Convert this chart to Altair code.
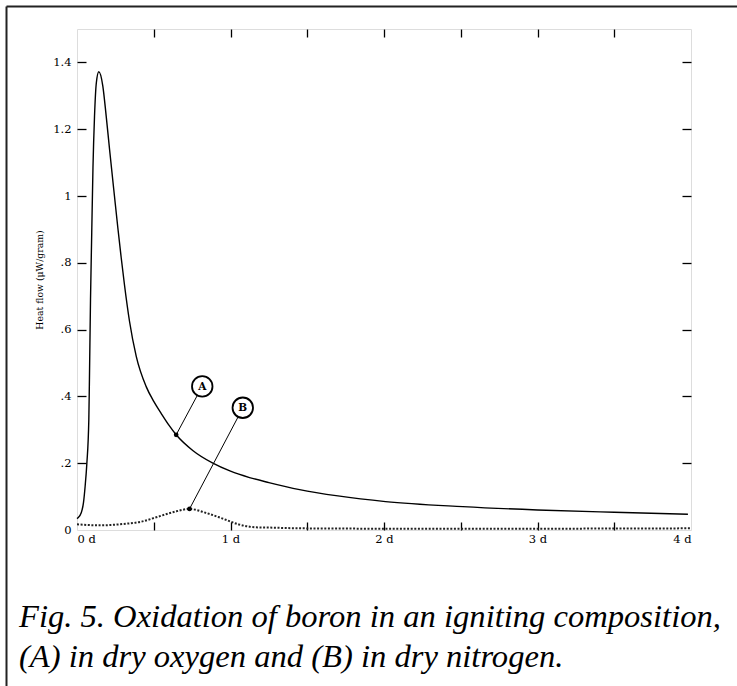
import altair as alt
import pandas as pd

# ---- data ----
a_days = [0.000, 0.005, 0.027, 0.042, 0.053, 0.064, 0.077, 0.081, 0.088, 0.096, 0.104, 0.114,
          0.126, 0.142, 0.168, 0.190, 0.212, 0.244, 0.266, 0.288, 0.309, 0.342, 0.386, 0.450,
          0.500, 0.550, 0.600, 0.646, 0.754, 0.885, 1.000, 1.124, 1.250, 1.450, 1.700, 2.010,
          2.513, 3.000, 3.500, 3.980]
a_flow = [0.034, 0.036, 0.051, 0.081, 0.131, 0.198, 0.330, 0.450, 0.690, 0.890, 1.084, 1.237,
          1.339, 1.372, 1.330, 1.240, 1.140, 1.000, 0.905, 0.815, 0.735, 0.625, 0.520, 0.430,
          0.385, 0.348, 0.313, 0.285, 0.238, 0.200, 0.176, 0.157, 0.142, 0.121, 0.102, 0.085,
          0.070, 0.060, 0.053, 0.047]

b_days = [0.000, 0.150, 0.300, 0.410, 0.516, 0.624, 0.733, 0.842, 0.950, 1.059, 1.167, 1.276,
          1.450, 2.000, 3.000, 4.000]
b_flow = [0.017, 0.014, 0.018, 0.024, 0.038, 0.053, 0.063, 0.051, 0.034, 0.016, 0.008, 0.007,
          0.005, 0.004, 0.004, 0.005]

callout_names = ["A", "B"]
callout_point_days = [0.646, 0.733]
callout_point_flow = [0.285, 0.063]
callout_end_days = [0.785, 1.050]
callout_end_flow = [0.404, 0.339]
callout_circle_days = [0.816, 1.080]
callout_circle_flow = [0.430, 0.366]

x_label_values = [0, 1, 2, 3, 4]
x_tick_values = [0.5, 1, 1.5, 2, 2.5, 3, 3.5]
y_label_values = [0, 0.2, 0.4, 0.6, 0.8, 1.0, 1.2, 1.4]
y_tick_values = [0.2, 0.4, 0.6, 0.8, 1.0, 1.2, 1.4]

caption = ["Fig. 5. Oxidation of boron in an igniting composition,",
           "(A) in dry oxygen and (B) in dry nitrogen."]
y_title = "Heat flow (\u03bcW/gram)"

# ---- layout ----
W, H = 614, 501
PAD_L, PAD_T = 77, 29
SERIF = "DejaVu Serif"

dfA = pd.DataFrame({"d": a_days, "q": a_flow})
dfB = pd.DataFrame({"d": b_days, "q": b_flow})
dfC = pd.DataFrame({
    "name": callout_names,
    "pd": callout_point_days, "pq": callout_point_flow,
    "ed": callout_end_days, "eq": callout_end_flow,
    "cd": callout_circle_days, "cq": callout_circle_flow,
})

xs = alt.Scale(domain=[0, 4], nice=False, zero=False)
ys = alt.Scale(domain=[0, 1.5], nice=False)

tick_common = dict(labels=False, domain=False, grid=False, title=None,
                   tickColor="black", tickWidth=1.3)

y_label_expr = ("datum.value == 0 ? '0' : (datum.value < 1 ? substring(format(datum.value, '.1f'), 1)"
                " : format(datum.value, '.1~f'))")

lineA = alt.Chart(dfA).mark_line(color="black", strokeWidth=1.4, interpolate="monotone").encode(
    x=alt.X("d:Q", scale=xs, axis=alt.Axis(
        orient="bottom", values=x_label_values, labelExpr="datum.value + ' d'",
        ticks=False, domain=False, grid=False, title=None, labelFlush=True,
        labelFont=SERIF, labelFontSize=11.5, labelColor="black", labelPadding=3)),
    y=alt.Y("q:Q", scale=ys, axis=alt.Axis(
        orient="left", values=y_label_values, labelExpr=y_label_expr,
        ticks=False, domain=False, grid=False, title=y_title,
        labelFont=SERIF, labelFontSize=11.5, labelColor="black", labelPadding=6,
        titleFont=SERIF, titleFontSize=9.3, titleFontWeight="normal", titleColor="black",
        titlePadding=8)),
)

lineB = alt.Chart(dfB).mark_line(color="#222", strokeWidth=2, strokeDash=[2, 1.6],
                                 interpolate="monotone").encode(
    x=alt.X("d:Q", scale=xs, axis=alt.Axis(orient="top", offset=-H, values=x_tick_values,
                                           tickSize=8, **tick_common)),
    y=alt.Y("q:Q", scale=ys, axis=alt.Axis(orient="right", offset=-W, values=y_tick_values,
                                           tickSize=9, **tick_common)),
)

dots = alt.Chart(dfC).mark_point(filled=True, color="black", size=22, opacity=1).encode(
    x=alt.X("pd:Q", scale=xs, axis=alt.Axis(orient="bottom", offset=-H, values=x_tick_values,
                                            tickSize=8, **tick_common)),
    y=alt.Y("pq:Q", scale=ys, axis=alt.Axis(orient="left", offset=-W, values=y_tick_values,
                                            tickSize=9, **tick_common)),
)

leaders = alt.Chart(dfC).mark_rule(color="black", strokeWidth=1).encode(
    x=alt.X("pd:Q", scale=xs, axis=None),
    y=alt.Y("pq:Q", scale=ys, axis=None),
    x2="ed:Q",
    y2="eq:Q",
)

circles = alt.Chart(dfC).mark_point(shape="circle", size=420, fill="white", fillOpacity=1,
                                    stroke="black", strokeWidth=1.8, opacity=1).encode(
    x=alt.X("cd:Q", scale=xs, axis=None),
    y=alt.Y("cq:Q", scale=ys, axis=None),
)

letters = alt.Chart(dfC).mark_text(font=SERIF, fontSize=10.5, fontWeight="bold", color="black",
                                   baseline="middle", align="center", dy=0.5).encode(
    x=alt.X("cd:Q", scale=xs, axis=None),
    y=alt.Y("cq:Q", scale=ys, axis=None),
    text="name:N",
)

single = pd.DataFrame({"k": [0]})
frame_left = alt.Chart(single).mark_rule(color="#222", strokeWidth=2).encode(
    x=alt.value(6.5 - PAD_L), y=alt.value(6.5 - PAD_T), y2=alt.value(686 - PAD_T))
frame_top = alt.Chart(single).mark_rule(color="#222", strokeWidth=2).encode(
    x=alt.value(6.5 - PAD_L), x2=alt.value(737 - PAD_L), y=alt.value(6.5 - PAD_T))

caption_text = alt.Chart(single).mark_text(
    text=caption, font="Liberation Serif", fontStyle="italic", fontSize=32.6, lineHeight=40,
    align="left", baseline="alphabetic", color="black",
).encode(x=alt.value(19 - PAD_L), y=alt.value(627 - PAD_T))

chart = alt.layer(
    frame_left, frame_top, lineB, lineA, leaders, dots, circles, letters, caption_text
).resolve_axis(
    x="independent", y="independent"
).properties(
    width=W, height=H,
    padding={"left": PAD_L, "top": PAD_T, "right": 737 - PAD_L - W, "bottom": 686 - PAD_T - H},
    autosize=alt.AutoSizeParams(type="none"),
).configure_view(
    stroke="black", strokeWidth=1.5
).configure(background="white")

chart.save("out.html", embed_options={"renderer": "svg", "actions": False})
